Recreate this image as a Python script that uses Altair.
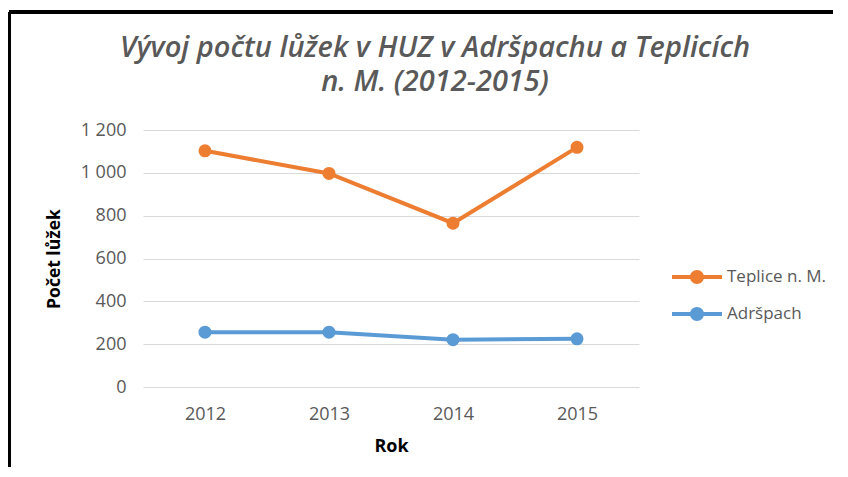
import altair as alt
import pandas as pd

years = ["2012", "2013", "2014", "2015"]
teplice = [1103, 997, 765, 1119]
adrspach = [256, 256, 221, 225]
series_names = ["Teplice n. M.", "Adršpach"]
series_colors = ["#ED7D31", "#5B9BD5"]
y_ticks = [0, 200, 400, 600, 800, 1000, 1200]
title_lines = ["Vývoj počtu lůžek v HUZ v Adršpachu a Teplicích", "n. M. (2012-2015)"]

rows = []
for name, vals in zip(series_names, [teplice, adrspach]):
    for yr, v in zip(years, vals):
        rows.append({"Rok": yr, "Počet lůžek": v, "Série": name})
df = pd.DataFrame(rows)

FONT = "Open Sans"
GRAY = "#595959"

x_enc = alt.X(
    "Rok:N",
    sort=years,
    scale=alt.Scale(type="point", padding=0.5),
    axis=alt.Axis(
        title="Rok", labelAngle=0, ticks=False, domain=False, grid=False,
        labelFont=FONT, labelFontSize=18, labelColor=GRAY, labelPadding=18,
        titleFont=FONT, titleFontSize=18, titleFontWeight="bold", titleColor="#000000",
        titlePadding=14,
    ),
)
y_enc = alt.Y(
    "Počet lůžek:Q",
    scale=alt.Scale(domain=[0, 1200], nice=False),
    axis=alt.Axis(
        title="Počet lůžek", values=y_ticks, ticks=False, domain=False,
        gridColor="#D9D9D9", gridWidth=1,
        labelExpr="replace(format(datum.value, ',d'), ',', ' ')",
        labelFont=FONT, labelFontSize=18, labelColor=GRAY, labelPadding=17,
        titleFont=FONT, titleFontSize=17.5, titleFontWeight="bold", titleColor="#000000",
        titlePadding=17,
    ),
)
color_scale = alt.Scale(domain=series_names, range=series_colors)

legend_path = (
    "M-1,-0.08 H-0.26 V0.08 H-1 Z "
    "M0.26,-0.08 H1 V0.08 H0.26 Z "
    "M0.28,0 A0.28,0.28 0 1,1 -0.28,0 A0.28,0.28 0 1,1 0.28,0 Z"
)
legend = alt.Legend(
    title=None, orient="none", legendX=529, legendY=122,
    symbolType=legend_path, symbolSize=2500, symbolStrokeWidth=0,
    labelFont=FONT, labelFontSize=17, labelColor=GRAY, labelOffset=5,
    rowPadding=4, padding=0,
)

lines = alt.Chart(df).mark_line(strokeWidth=4).encode(
    x=x_enc, y=y_enc,
    color=alt.Color("Série:N", scale=color_scale, sort=series_names, legend=legend),
)
points = alt.Chart(df).mark_circle(size=170, opacity=1).encode(
    x=x_enc, y=y_enc,
    color=alt.Color("Série:N", scale=color_scale, sort=series_names, legend=legend),
)

title_df = pd.DataFrame({"t": ["\n".join(title_lines)]})
title = alt.Chart(title_df).mark_text(
    font=FONT, fontSize=29, fontStyle="italic", fontWeight=600, color=GRAY,
    align="center", baseline="alphabetic", lineBreak="\n", lineHeight=34,
).encode(text="t:N", x=alt.value(292), y=alt.value(-73))

frame_top = alt.Chart(df).mark_rule(color="#000000", strokeWidth=3).encode(
    x=alt.value(-134), x2=alt.value(720), y=alt.value(-118)
)
frame_left = alt.Chart(df).mark_rule(color="#000000", strokeWidth=3).encode(
    x=alt.value(-134), y=alt.value(-118), y2=alt.value(360)
)

chart = alt.layer(frame_top, frame_left, title, lines, points).properties(
    width=496,
    height=257,
    autosize=alt.AutoSizeParams(type="none"),
    padding={"left": 135, "top": 122, "right": 194, "bottom": 80},
    view=alt.ViewBackground(stroke=None, strokeWidth=0),
).configure_view(strokeWidth=0, stroke="transparent").configure(background="white")

chart.save("out.html", embed_options={"renderer": "svg", "actions": False})
